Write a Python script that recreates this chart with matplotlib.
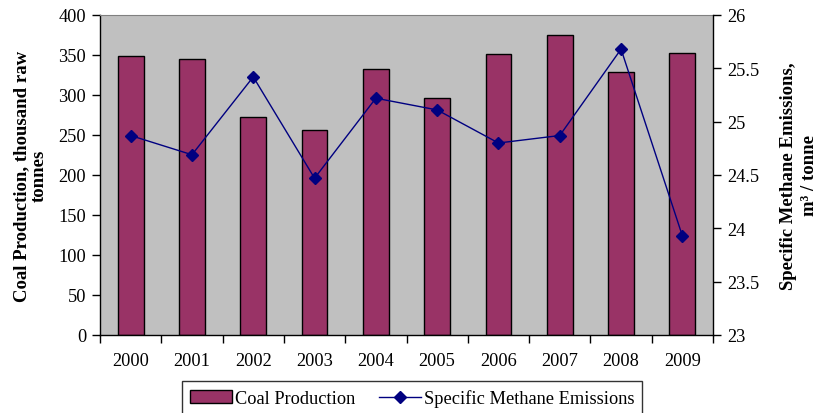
import matplotlib
matplotlib.use("Agg")
import matplotlib.pyplot as plt
import numpy as np

years = ["2000", "2001", "2002", "2003", "2004", "2005", "2006", "2007", "2008", "2009"]
coal_production = [349, 345, 273, 256, 333, 296, 351, 375, 329, 353]
methane_emissions = [24.87, 24.69, 25.42, 24.47, 25.22, 25.11, 24.80, 24.87, 25.68, 23.93]

plt.rcParams['font.family'] = ['Liberation Serif', 'DejaVu Serif']
fs = 13.2
lfs = 13.5

fig = plt.figure(figsize=(8.25, 4.14), dpi=100)
ax = fig.add_axes([100/825, 1-336/414, 613/825, 320/414])
ax.set_facecolor('#C0C0C0')

x = np.arange(len(years))
b = ax.bar(x, coal_production, width=0.42, color='#993366', edgecolor='black', linewidth=1, label='Coal Production', zorder=2)
ax.set_xlim(-0.5, len(years) - 0.5)
ax.set_ylim(0, 400)
ax.set_yticks(np.arange(0, 401, 50))
ax.set_xticks(x)
ax.set_xticklabels(years, fontsize=fs)
ax.set_xticks(np.arange(-0.5, len(years), 1), minor=True)
ax.tick_params(axis='x', which='major', length=0, pad=12)
ax.tick_params(axis='x', which='minor', length=6, width=1, direction='out', color='black')
ax.tick_params(axis='y', length=6, width=1, direction='out', labelsize=fs, pad=4)
ax.set_ylabel('Coal Production, thousand raw\ntonnes', fontsize=lfs, fontweight='bold', labelpad=8, linespacing=1.0)

for s in ['left', 'bottom']:
    ax.spines[s].set_color('black')
    ax.spines[s].set_linewidth(1)
ax.spines['top'].set_color('#808080')
ax.spines['right'].set_visible(False)

ax2 = ax.twinx()
l, = ax2.plot(x, methane_emissions, color='#000080', marker='D', markersize=6, linewidth=1, label='Specific Methane Emissions', zorder=3)
ax2.set_ylim(23, 26)
ax2.set_yticks(np.arange(23, 26.01, 0.5))
ax2.set_yticklabels(['23', '23.5', '24', '24.5', '25', '25.5', '26'])
ax2.tick_params(axis='y', length=6, width=1, direction='out', labelsize=fs, pad=4)
ax2.spines['right'].set_color('black')
ax2.spines['right'].set_linewidth(1)
ax2.spines['top'].set_visible(False)
ax2.spines['left'].set_visible(False)
ax2.spines['bottom'].set_visible(False)
ax2.set_ylabel('Specific Methane Emissions,\nm³ / tonne', fontsize=lfs, fontweight='bold', labelpad=15, linespacing=1.3)

leg = fig.legend([b, l], ['Coal Production', 'Specific Methane Emissions'],
                 loc='upper center', bbox_to_anchor=(412/825, 1-382/414), ncol=2,
                 fontsize=fs, frameon=True, fancybox=False, edgecolor='black',
                 handlelength=2.3, columnspacing=1.3, handletextpad=0.15, borderpad=0.45,
                 borderaxespad=0)
leg.get_frame().set_linewidth(1)

fig.savefig('out.png', dpi=100)
